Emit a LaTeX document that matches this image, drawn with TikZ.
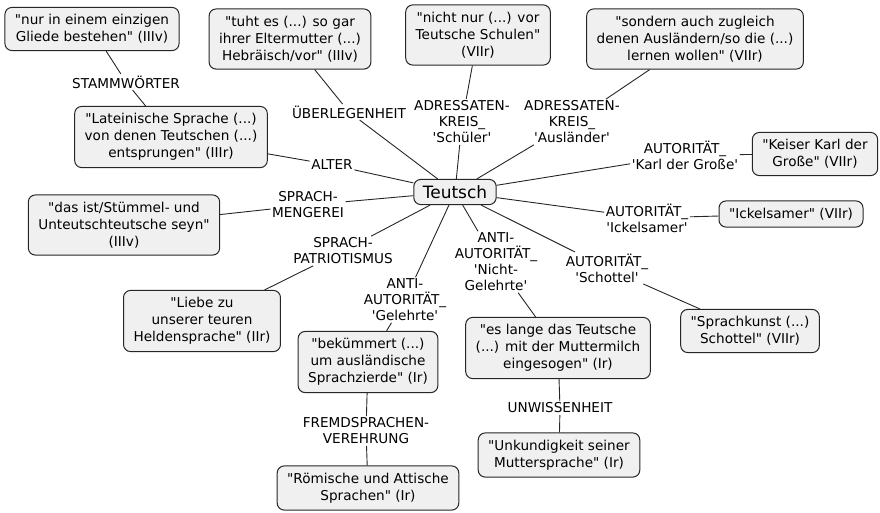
\documentclass[tikz,border=0pt]{standalone}
\usepackage{fontspec}
\setmainfont{DejaVu Sans}[Ligatures=TeXOff]
\usepackage{tikz}
\usetikzlibrary{positioning}
\definecolor{conceptfill}{HTML}{F0F0F0}
\tikzstyle{concept} = [rectangle, rounded corners=7pt, draw=black!85, line width=1pt, fill=conceptfill, align=center, inner xsep=10pt, inner ysep=7pt, font=\fontsize{13.6}{17}\selectfont]
\tikzstyle{phrase} = [align=center, inner sep=1.5pt, font=\fontsize{13.6}{16}\selectfont]
\tikzstyle{link} = [black!85, line width=0.9pt]

\begin{document}
\begin{tikzpicture}[x=1pt,y=-1pt]
    \useasboundingbox (0,0) rectangle (880,512);
    % Concepts
    \node [concept, font=\fontsize{17}{20}\selectfont, inner xsep=9pt, inner ysep=6pt] (teutsch) at (455,192) {Teutsch};
    \node [concept] (einzig) at (92,29) {"nur in einem einzigen\\Gliede bestehen" (IIIv)};
    \node [concept] (eltermutter) at (290,39) {"tuht es (...) so gar\\ihrer Eltermutter (...)\\Hebräisch/vor" (IIIv)};
    \node [concept] (schulen) at (478,35) {"nicht nur (...) vor\\Teutsche Schulen"\\(VIIr)};
    \node [concept] (auslaendern) at (695,39) {"sondern auch zugleich\\denen Ausländern/so die (...)\\lernen wollen" (VIIr)};
    \node [concept] (latein) at (171,137) {"Lateinische Sprache (...)\\von denen Teutschen (...)\\entsprungen" (IIIr)};
    \node [concept] (keiser) at (815,154) {"Keiser Karl der\\Große" (VIIr)};
    \node [concept] (stuemmel) at (124,225) {"das ist/Stümmel- und\\Unteutschteutsche seyn"\\(IIIv)};
    \node [concept] (ickel) at (791,214) {"Ickelsamer" (VIIr)};
    \node [concept] (liebe) at (202,321) {"Liebe zu\\unserer teuren\\Heldensprache" (IIr)};
    \node [concept] (zierde) at (368,362) {"bekümmert (...)\\um ausländische\\Sprachzierde" (Ir)};
    \node [concept] (milch) at (558,348) {"es lange das Teutsche\\(...) mit der Muttermilch\\eingesogen" (Ir)};
    \node [concept] (sprachkunst) at (750,331) {"Sprachkunst (...)\\Schottel" (VIIr)};
    \node [concept] (unkund) at (559,455) {"Unkundigkeit seiner\\Muttersprache" (Ir)};
    \node [concept] (roemisch) at (368,488) {"Römische und Attische\\Sprachen" (Ir)};

    % Linking phrases
    \node [phrase] (stamm) at (126,82) {STAMMWÖRTER};
    \node [phrase] (ueber) at (349,112) {ÜBERLEGENHEIT};
    \node [phrase] (schueler) at (462,122) {ADRESSATEN-\\KREIS\_\\'Schüler'};
    \node [phrase] (auslaender) at (572,122) {ADRESSATEN-\\KREIS\_\\'Ausländer'};
    \node [phrase] (alter) at (332,165) {ALTER};
    \node [phrase] (karl) at (685,155) {AUTORITÄT\_\\'Karl der Große'};
    \node [phrase] (mengerei) at (308,205) {SPRACH-\\MENGEREI};
    \node [phrase] (ickelsamer) at (647,218) {AUTORITÄT\_\\'Ickelsamer'};
    \node [phrase] (patriot) at (343,251) {SPRACH-\\PATRIOTISMUS};
    \node [phrase] (nichtgelehrte) at (496,262) {ANTI-\\AUTORITÄT\_\\'Nicht-\\Gelehrte'};
    \node [phrase] (schottel) at (607,268) {AUTORITÄT\_\\'Schottel'};
    \node [phrase] (gelehrte) at (405,300) {ANTI-\\AUTORITÄT\_\\'Gelehrte'};
    \node [phrase] (fremd) at (366,431) {FREMDSPRACHEN-\\VEREHRUNG};
    \node [phrase] (unwissen) at (560,408) {UNWISSENHEIT};

    % Links
    \draw [link] (latein) -- (stamm) -- (einzig);
    \draw [link] (teutsch) -- (ueber) -- (eltermutter);
    \draw [link] (teutsch) -- (schueler) -- (schulen);
    \draw [link] (teutsch) -- (auslaender) -- (auslaendern);
    \draw [link] (teutsch) -- (alter) -- (latein);
    \draw [link] (teutsch) -- (karl) -- (keiser);
    \draw [link] (teutsch) -- (mengerei) -- (stuemmel);
    \draw [link] (teutsch) -- (ickelsamer) -- (ickel);
    \draw [link] (teutsch) -- (patriot) -- (liebe);
    \draw [link] (teutsch) -- (nichtgelehrte) -- (milch);
    \draw [link] (teutsch) -- (schottel) -- (sprachkunst);
    \draw [link] (teutsch) -- (gelehrte) -- (zierde);
    \draw [link] (zierde) -- (fremd) -- (roemisch);
    \draw [link] (milch) -- (unwissen) -- (unkund);
\end{tikzpicture}
\end{document}
